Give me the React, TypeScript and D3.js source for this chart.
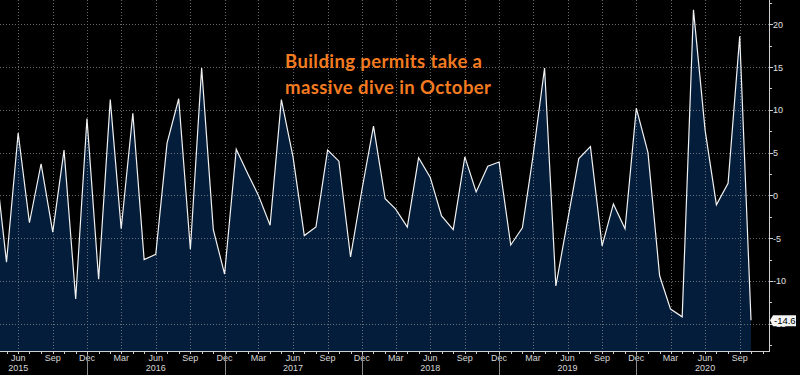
import React, { useEffect, useRef } from "react";
import * as d3 from "d3";

// monthly % change, Apr 2015 .. Oct 2020
const startMonth = new Date(2015, 3, 1);
const values = [
  4.0, -7.8, 7.3, -3.2, 3.7, -4.3, 5.3, -12.1, 9.0,
  -9.8, 11.2, -3.9, 9.6, -7.5, -6.9, 6.1, 11.3, -6.3, 14.9, -4.0, -9.2,
  5.4, 2.5, 0.0, -3.5, 11.2, 4.5, -4.7, -3.7, 5.3, 4.0, -7.2, 0.6,
  8.1, -0.4, -1.6, -3.7, 4.4, 2.1, -2.4, -4.0, 4.5, 0.4, 3.4, 3.9,
  -5.8, -3.8, 4.5, 14.9, -10.6, -3.0, 4.3, 5.7, -5.9, -1.0, -3.9, 10.2,
  5.0, -9.4, -13.3, -14.2, 21.7, 7.6, -1.1, 1.4, 18.6, -14.6,
];
const yTicks = [-15, -10, -5, 0, 5, 10, 15, 20];
const years = [2015, 2016, 2017, 2018, 2019, 2020];
const titleLines = ["Building permits take a", "massive dive in October"];
const lastLabel = "-14.6";

const W = 800;
const H = 375;

const App = () => {
  const ref = useRef<SVGSVGElement>(null);

  useEffect(() => {
    drawChart();
  }, []);

  const drawChart = () => {
    const svg = d3.select(ref.current);
    svg.selectAll("*").remove();

    const data = values.map((v, i) => ({
      date: d3.timeMonth.offset(startMonth, i),
      value: v,
    }));

    const axisX = 769;
    const axisY = 351;

    const x = d3
      .scaleTime()
      .domain([new Date(2015, 4, 1), new Date(2020, 9, 1)])
      .range([6.5, 751]);
    const y = d3.scaleLinear().domain([-18.2, 22.85]).range([axisY, 0]);

    svg.append("rect").attr("width", W).attr("height", H).attr("fill", "#000");

    const area = d3
      .area<{ date: Date; value: number }>()
      .x((d) => x(d.date))
      .y0(axisY)
      .y1((d) => y(d.value));
    const line = d3
      .line<{ date: Date; value: number }>()
      .x((d) => x(d.date))
      .y((d) => y(d.value));

    svg.append("path").attr("d", area(data)).attr("fill", "#031d3a");

    // grid
    const quarters = d3
      .timeMonths(new Date(2015, 0, 1), new Date(2020, 11, 1))
      .filter((d) => d.getMonth() % 3 === 2 && x(d) > 0 && x(d) < axisX);
    const grid = svg.append("g").attr("stroke", "#8a8f96").attr("stroke-dasharray", "1,2").attr("opacity", 0.75);
    grid
      .selectAll("line.h")
      .data(yTicks)
      .enter()
      .append("line")
      .attr("x1", 0)
      .attr("x2", axisX)
      .attr("y1", (d) => Math.round(y(d)) + 0.5)
      .attr("y2", (d) => Math.round(y(d)) + 0.5);
    grid
      .selectAll("line.v")
      .data(quarters)
      .enter()
      .append("line")
      .attr("x1", (d) => Math.round(x(d)) + 0.5)
      .attr("x2", (d) => Math.round(x(d)) + 0.5)
      .attr("y1", 0)
      .attr("y2", axisY);

    svg
      .append("path")
      .attr("d", line(data))
      .attr("fill", "none")
      .attr("stroke", "#f2f2f2")
      .attr("stroke-width", 1.2);

    // x axis
    svg
      .append("line")
      .attr("x1", 0)
      .attr("x2", axisX)
      .attr("y1", axisY + 0.5)
      .attr("y2", axisY + 0.5)
      .attr("stroke", "#d0d0d0");
    const months = d3
      .timeMonths(new Date(2015, 0, 1), new Date(2021, 1, 1))
      .filter((d) => x(d) > 0 && x(d) < axisX);
    svg
      .append("g")
      .selectAll("line")
      .data(months)
      .enter()
      .append("line")
      .attr("x1", (d) => Math.round(x(d)) + 0.5)
      .attr("x2", (d) => Math.round(x(d)) + 0.5)
      .attr("y1", axisY)
      .attr("y2", axisY + 3)
      .attr("stroke", "#d0d0d0");

    const fmt = d3.timeFormat("%b");
    const axisFont = "'Liberation Sans', Arial, sans-serif";
    svg
      .append("g")
      .selectAll("text")
      .data(quarters)
      .enter()
      .append("text")
      .attr("x", (d) => x(d))
      .attr("y", 361)
      .attr("text-anchor", "middle")
      .attr("font-family", axisFont)
      .attr("font-size", 9)
      .attr("fill", "#d8d8d8")
      .text((d) => fmt(d));

    svg
      .append("g")
      .selectAll("text")
      .data(years)
      .enter()
      .append("text")
      .attr("x", (d) => x(new Date(d, 5, 1)))
      .attr("y", 371)
      .attr("text-anchor", "middle")
      .attr("font-family", axisFont)
      .attr("font-size", 9)
      .attr("fill", "#d8d8d8")
      .text((d) => d);

    svg
      .append("g")
      .selectAll("line")
      .data(years.slice(0, -1))
      .enter()
      .append("line")
      .attr("x1", (d) => Math.round(x(new Date(d, 11, 1))) + 0.5)
      .attr("x2", (d) => Math.round(x(new Date(d, 11, 1))) + 0.5)
      .attr("y1", axisY + 3)
      .attr("y2", H)
      .attr("stroke", "#8a8a8a");

    // y axis on the right
    svg
      .append("line")
      .attr("x1", axisX + 0.5)
      .attr("x2", axisX + 0.5)
      .attr("y1", 0)
      .attr("y2", axisY + 1)
      .attr("stroke", "#d0d0d0");
    const minor = d3.range(-17.5, 23, 2.5);
    svg
      .append("g")
      .selectAll("line")
      .data(minor)
      .enter()
      .append("line")
      .attr("x1", axisX)
      .attr("x2", (d) => axisX + (d % 5 === 0 ? 4 : 3))
      .attr("y1", (d) => Math.round(y(d)) + 0.5)
      .attr("y2", (d) => Math.round(y(d)) + 0.5)
      .attr("stroke", "#d0d0d0");
    svg
      .append("g")
      .selectAll("text")
      .data(yTicks)
      .enter()
      .append("text")
      .attr("x", axisX + 4)
      .attr("y", (d) => y(d) + 3.5)
      .attr("font-family", axisFont)
      .attr("font-size", 9)
      .attr("fill", "#e0e0e0")
      .text((d) => (d < 0 ? "-" + Math.abs(d) : d));

    // last value tag
    const last = data[data.length - 1];
    const ly = y(last.value);
    svg
      .append("path")
      .attr(
        "d",
        `M${axisX + 1},${ly} L${axisX + 4},${ly - 5} L${W - 4},${ly - 5} L${W - 4},${ly + 6} L${axisX + 4},${ly + 6} Z`
      )
      .attr("fill", "#f4f4f4");
    svg
      .append("text")
      .attr("x", axisX + 5)
      .attr("y", ly + 4)
      .attr("font-family", axisFont)
      .attr("font-size", 9.5)
      .attr("fill", "#000")
      .text(lastLabel);

    // annotation
    const titleWidths = [197, 206];
    svg
      .append("g")
      .selectAll("text")
      .data(titleLines)
      .enter()
      .append("text")
      .attr("x", 285)
      .attr("y", (d, i) => 68 + i * 26)
      .attr("font-family", "Lato, 'Open Sans', sans-serif")
      .attr("font-weight", "bold")
      .attr("font-size", 18.5)
      .attr("textLength", (d, i) => titleWidths[i])
      .attr("lengthAdjust", "spacing")
      .attr("fill", "#f47b20")
      .text((d) => d);
  };

  return (
    <div style={{ position: "absolute", left: 0, top: 0 }}>
      <svg ref={ref} width={W} height={H} style={{ display: "block" }}></svg>
    </div>
  );
};

export default App;
